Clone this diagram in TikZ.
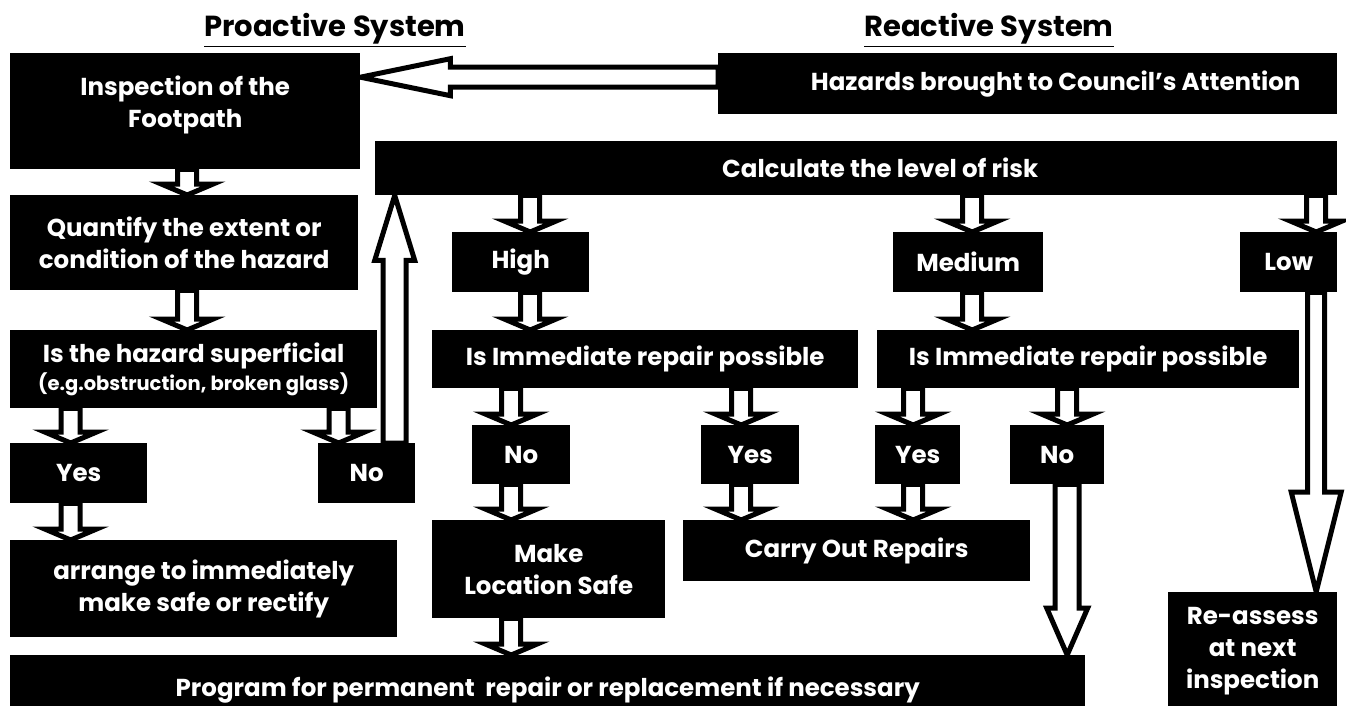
\documentclass[tikz,border=0pt]{standalone}
\usepackage{fontspec}
\setmainfont{Poppins}
\usetikzlibrary{calc}
\pgfdeclarelayer{bg}
\pgfsetlayers{bg,main}
\tikzset{
  box/.style={fill=black, draw=none, text=white, font=\bfseries\fontsize{24.5}{32}\selectfont,
    align=center, inner sep=0pt, anchor=north west},
  fatarrow/.style={draw=black, fill=white, line width=5pt, line join=miter},
  ttl/.style={font=\bfseries\fontsize{29}{34}\selectfont, text=black, inner sep=0pt}
}
\newcommand\fatarr[5]{%
  \coordinate (fas) at #1; \coordinate (fat) at #2;
  \coordinate (fab) at ($(fat)!#5!(fas)$);
  \draw[fatarrow] ($(fas)!#3!90:(fat)$) -- ($(fab)!#3!-90:(fas)$) -- ($(fab)!#4!-90:(fas)$)
    -- (fat) -- ($(fab)!#4!90:(fas)$) -- ($(fab)!#3!90:(fas)$) -- ($(fas)!#3!-90:(fat)$) -- cycle;}
\newcommand\smarr[2]{\fatarr{#1}{#2}{9.5pt}{26pt}{11pt}}
\begin{document}
\begin{tikzpicture}[x=1pt,y=-1pt]
\useasboundingbox (0,0) rectangle (1346,706);
% titles
\node[ttl] (tpro) at (335,30) {\underline{Proactive System}};
\node[ttl] (trea) at (989,30) {\underline{Reactive System}};
% boxes
\node[box, minimum width=350, minimum height=116, text depth=20pt] (insp) at (10,53) {Inspection of the\\Footpath};
\node[box, minimum width=619, minimum height=61] (haz) at (718,53) {\hspace*{56pt}Hazards brought to Council’s Attention};
\node[box, minimum width=962, minimum height=54] (calc) at (375,141) {\hspace*{48pt}Calculate the level of risk};
\node[box, minimum width=348, minimum height=95] (quant) at (10,195) {Quantify the extent or\\condition of the hazard};
\node[box, minimum width=367, minimum height=78] (sup) at (10,330) {Is the hazard superficial\\[-4pt]{\fontsize{19.5}{22}\selectfont (e.g.obstruction, broken glass)}};
\node[box, minimum width=137, minimum height=60] (yesL) at (10,443) {Yes};
\node[box, minimum width=97, minimum height=60] (noL) at (318,443) {No};
\node[box, minimum width=387, minimum height=97] (arr) at (10,540) {arrange to immediately\\make safe or rectify};
\node[box, minimum width=1075, minimum height=70] (prog) at (10,655) {Program for permanent\ \ repair or replacement if necessary};
\node[box, minimum width=137, minimum height=60] (high) at (452,232) {High};
\node[box, minimum width=150, minimum height=60] (med) at (893,232) {Medium};
\node[box, minimum width=97, minimum height=60] (low) at (1240,232) {Low};
\node[box, minimum width=426, minimum height=58] (imm1) at (432,330) {Is Immediate repair possible};
\node[box, minimum width=422, minimum height=58] (imm2) at (877,330) {Is Immediate repair possible};
\node[box, minimum width=98, minimum height=59] (noM) at (472,425) {No};
\node[box, minimum width=98, minimum height=59] (yesA) at (701,425) {Yes};
\node[box, minimum width=85, minimum height=59] (yesB) at (875,425) {Yes};
\node[box, minimum width=94, minimum height=59] (noR) at (1010,425) {No};
\node[box, minimum width=233, minimum height=98] (safe) at (432,520) {Make\\Location Safe};
\node[box, minimum width=347, minimum height=61] (carry) at (683,520) {Carry Out Repairs};
\node[box, minimum width=169, minimum height=118] (reas) at (1168,592) {Re-assess\\at next\\inspection};
% arrows
\begin{pgfonlayer}{bg}
\fatarr{($(haz.west)+(0,-6.5)$)}{($(insp.east|-haz.west)+(0,-6.5)$)}{10pt}{18.5pt}{90pt}
\smarr{($(insp.south)+(2,0)$)}{($(insp.south|-quant.north)+(2,0)$)}
\smarr{($(quant.south)+(3,0)$)}{($(quant.south|-sup.north)+(3,0)$)}
\smarr{($(yesL.north|-sup.south)+(-8,0)$)}{($(yesL.north)+(-8,0)$)}
\smarr{($(yesL.south)+(-8,0)$)}{($(yesL.south|-arr.north)+(-8,0)$)}
\smarr{($(noL.north|-sup.south)+(-28,0)$)}{($(noL.north)+(-28,0)$)}
\fatarr{($(noL.north)+(28,0)$)}{($(noL.north|-calc.south)+(28,0)$)}{11.5pt}{20pt}{65pt}
\smarr{($(high.north|-calc.south)+(9.5,0)$)}{($(high.north)+(9.5,0)$)}
\smarr{($(med.north|-calc.south)+(4,0)$)}{($(med.north)+(4,0)$)}
\smarr{($(low.north|-calc.south)+(27.5,0)$)}{($(low.north)+(27.5,0)$)}
\smarr{($(high.south)+(9.5,0)$)}{($(high.south|-imm1.north)+(9.5,0)$)}
\smarr{($(med.south)+(4,0)$)}{($(med.south|-imm2.north)+(4,0)$)}
\smarr{($(noM.north|-imm1.south)+(-10,0)$)}{($(noM.north)+(-10,0)$)}
\smarr{($(yesA.north|-imm1.south)+(-9,0)$)}{($(yesA.north)+(-9,0)$)}
\smarr{($(yesB.north|-imm2.south)+(-4.5,0)$)}{($(yesB.north)+(-4.5,0)$)}
\smarr{($(noR.north|-imm2.south)+(10,0)$)}{($(noR.north)+(10,0)$)}
\smarr{($(noM.south)+(-10,0)$)}{($(noM.south|-safe.north)+(-10,0)$)}
\smarr{($(yesA.south)+(-9,0)$)}{($(yesA.south|-carry.north)+(-9,0)$)}
\smarr{($(yesB.south)+(-4.5,0)$)}{($(yesB.south|-carry.north)+(-4.5,0)$)}
\smarr{($(safe.south)+(-37.5,0)$)}{($(safe.south|-prog.north)+(-37.5,0)$)}
\fatarr{($(noR.south)+(10,0)$)}{($(noR.south|-prog.north)+(10,0)$)}{12pt}{20.5pt}{47pt}
\fatarr{($(low.south)+(27.5,0)$)}{($(low.south|-reas.north)+(27.5,0)$)}{8.5pt}{25pt}{100pt}
\end{pgfonlayer}
\end{tikzpicture}
\end{document}
